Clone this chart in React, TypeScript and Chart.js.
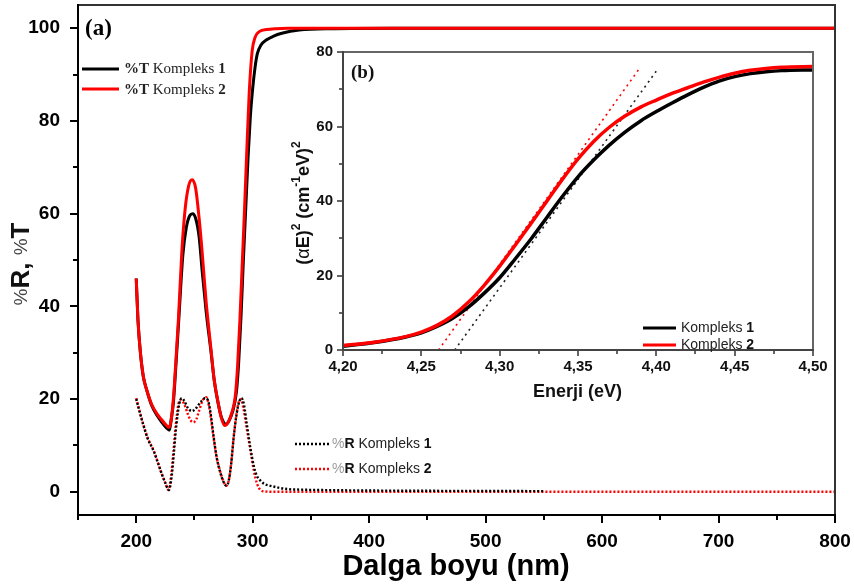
import React, { useEffect, useRef } from 'react';
import { Chart, registerables } from 'chart.js';

Chart.register(...registerables);

// ---------- (a) main chart data ----------
const WL_T1 = [200, 201.5, 203.4, 206, 209.2, 213, 217.8, 222, 226, 228.5, 230, 232, 234, 236.5, 240, 243, 246, 248.5, 251, 254, 256.5, 260, 264.3, 267, 270, 273, 277, 280, 283, 286, 288, 290, 292, 294, 296, 298, 300, 302, 304, 307, 312, 318, 325, 340, 370, 420, 500, 650, 800];
const T_K1 = [46, 37, 30.5, 25, 21.8, 18.8, 16.5, 15, 13.8, 13.3, 15.5, 19.5, 27, 37, 51, 57, 59.6, 60, 59, 55, 48, 39, 30, 24, 19.5, 16.2, 14.6, 15.5, 17.5, 21.5, 28, 38, 50, 61, 72, 81, 87, 91.5, 94.5, 96.3, 97.5, 98.3, 98.9, 99.6, 99.9, 100, 100, 100, 100];

const WL_T2 = [200, 201.5, 203.4, 206, 209.2, 213, 217.8, 222, 226, 228.3, 230, 232, 234, 236.3, 239.2, 242, 245, 248, 251, 254, 256.5, 260, 264.3, 267, 270, 273, 276, 279, 282, 285, 287, 289, 291, 293, 295, 297, 299.5, 302, 306, 312, 320, 330, 400, 600, 800];
const T_K2 = [46, 37, 30.5, 25, 21.8, 19, 16.8, 15.5, 14.3, 13.9, 15.5, 20.4, 28, 37.6, 52, 61, 66, 67.3, 65.5, 59, 52, 41, 30.5, 24, 19.7, 16, 14.3, 15, 17, 20.5, 27, 37, 49, 61, 74, 86, 95, 98, 99.3, 99.7, 99.9, 100, 100, 100, 100];

const WL_R1 = [200, 203, 206, 210, 215, 219, 222, 225, 228, 230.5, 232.5, 234.5, 237, 239, 241.5, 244, 247.8, 250.5, 253, 256.5, 259, 261.5, 263.5, 266.4, 269, 272, 275, 277.5, 279.5, 281.5, 283.6, 286, 288.5, 290.5, 292.5, 295, 298, 301, 303.5, 306.7, 310, 315.3, 322, 329.6, 345, 370, 420, 480, 550];
const R_K1 = [20, 17.2, 14.5, 11.4, 8.8, 6, 3.8, 1.9, 0.4, 3.5, 8.9, 14.5, 19, 20.2, 19.5, 18.2, 17.4, 17.8, 18.6, 19.7, 20.2, 19.8, 17.5, 12, 7.5, 4.3, 2.1, 1.3, 2.5, 6, 11.5, 16.5, 19.5, 20.2, 18.8, 14.5, 9.5, 5.5, 3.5, 2.4, 1.7, 1.3, 0.9, 0.6, 0.45, 0.35, 0.25, 0.2, 0.15];

const WL_R2 = [200, 203, 206, 210, 215, 219, 222, 225, 227.7, 230, 232, 234, 236.3, 238.5, 241, 244, 246.5, 249, 251.5, 254, 257, 260.1, 262.5, 264.5, 266.4, 269, 272, 275, 277.3, 279.5, 281.5, 283.6, 286, 288, 289.9, 292, 295, 298.1, 301, 303.8, 306.7, 310, 320, 400, 600, 800];
const R_K2 = [20.2, 17.3, 14.6, 11.5, 8.9, 6, 3.8, 1.9, 0.4, 3.5, 8.9, 14.5, 19, 19.8, 19, 17, 15.5, 15, 15.6, 17.5, 19.7, 20.4, 18.5, 15.3, 11.7, 7.5, 4.5, 2.2, 1.3, 2.5, 6, 11.7, 16.5, 19.3, 20, 18, 13.5, 8.9, 4.5, 1.7, 0.4, 0.1, 0, 0, 0, 0];

const X_TICKS = [200, 300, 400, 500, 600, 700, 800];
const X_MINOR = [150, 250, 350, 450, 550, 650, 750];
const Y_TICKS = [0, 20, 40, 60, 80, 100];
const Y_MINOR = [10, 30, 50, 70, 90];

// ---------- (b) inset data ----------
const E_GRID = [4.20, 4.22, 4.24, 4.25, 4.26, 4.27, 4.28, 4.29, 4.30, 4.31, 4.32, 4.33, 4.34, 4.35, 4.36, 4.37, 4.38, 4.39, 4.40, 4.41, 4.42, 4.43, 4.44, 4.45, 4.46, 4.47, 4.48, 4.50];
const AE_K1 = [1.0, 2.0, 3.5, 4.6, 6.3, 8.5, 11.5, 15.2, 19.4, 24.5, 29.8, 35.5, 41.2, 46.5, 51, 55, 58.5, 61.5, 64, 66.3, 68.5, 70.5, 72.2, 73.4, 74.2, 74.7, 75.0, 75.2];
const AE_K2 = [1.2, 2.1, 3.6, 4.8, 6.6, 9.2, 12.8, 17.3, 22.5, 28.2, 34, 39.9, 45.8, 51.3, 56, 59.8, 62.8, 65.2, 67.1, 68.9, 70.4, 71.9, 73.2, 74.3, 75.1, 75.6, 75.9, 76.1];
const FIT_E1 = [4.2713, 4.4014];
const FIT_K1 = [0, 75.7];
const FIT_E2 = [4.261, 4.3889];
const FIT_K2 = [0, 75.4];

const EX_TICKS = [4.2, 4.25, 4.3, 4.35, 4.4, 4.45, 4.5];
const EX_MINOR = [4.225, 4.275, 4.325, 4.375, 4.425, 4.475];
const EY_TICKS = [0, 20, 40, 60, 80];
const EY_MINOR = [10, 30, 50, 70];

const SANS = "'Liberation Sans', Arial, sans-serif";
const SERIF = "'Liberation Serif', 'Times New Roman', serif";

const pts = (xs: number[], ys: number[]) => xs.map((x, i) => ({ x, y: ys[i] }));

type Seg = { t: string; f: string; c?: string; dy?: number };

function drawRich(ctx: CanvasRenderingContext2D, segs: Seg[], x: number, y: number, align: 'left' | 'center' = 'left', rot = 0) {
  ctx.save();
  ctx.translate(x, y);
  if (rot) ctx.rotate(rot);
  ctx.textBaseline = 'middle';
  ctx.textAlign = 'left';
  let total = 0;
  for (const s of segs) {
    ctx.font = s.f;
    total += ctx.measureText(s.t).width;
  }
  let cx = align === 'center' ? -total / 2 : 0;
  for (const s of segs) {
    ctx.font = s.f;
    ctx.fillStyle = s.c || '#111';
    ctx.fillText(s.t, cx, s.dy || 0);
    cx += ctx.measureText(s.t).width;
  }
  ctx.restore();
}

type FrameCfg = {
  xMajor: number[]; xMinor: number[]; yMajor: number[]; yMinor: number[];
  major: number; minor: number; tickW: number; tickColor: string;
  axisColor: string; frameColor: string; frameW: number;
};

function drawFrame(chart: any, cfg: FrameCfg) {
  const { ctx, chartArea: a } = chart;
  const xs = chart.scales.x;
  const ys = chart.scales.y;
  ctx.save();
  ctx.lineCap = 'butt';
  ctx.strokeStyle = cfg.tickColor;
  ctx.lineWidth = cfg.tickW;
  ctx.beginPath();
  cfg.xMajor.forEach((v) => { const p = Math.round(xs.getPixelForValue(v)); ctx.moveTo(p, a.bottom); ctx.lineTo(p, a.bottom + cfg.major); });
  cfg.xMinor.forEach((v) => { const p = Math.round(xs.getPixelForValue(v)); ctx.moveTo(p, a.bottom); ctx.lineTo(p, a.bottom + cfg.minor); });
  cfg.yMajor.forEach((v) => { const p = Math.round(ys.getPixelForValue(v)); ctx.moveTo(a.left, p); ctx.lineTo(a.left - cfg.major, p); });
  cfg.yMinor.forEach((v) => { const p = Math.round(ys.getPixelForValue(v)); ctx.moveTo(a.left, p); ctx.lineTo(a.left - cfg.minor, p); });
  ctx.stroke();
  ctx.lineWidth = cfg.frameW;
  ctx.strokeStyle = cfg.frameColor;
  ctx.beginPath();
  ctx.moveTo(a.left, a.top);
  ctx.lineTo(a.right, a.top);
  ctx.lineTo(a.right, a.bottom);
  ctx.stroke();
  ctx.strokeStyle = cfg.axisColor;
  ctx.beginPath();
  ctx.moveTo(a.left, a.top - 1);
  ctx.lineTo(a.left, a.bottom);
  ctx.lineTo(a.right + 1, a.bottom);
  ctx.stroke();
  ctx.restore();
}

const zeroPad = (s: any) => {
  s.paddingTop = 0;
  s.paddingBottom = 0;
  s.paddingLeft = 0;
  s.paddingRight = 0;
};

const RED = '#ff0000';
const BLACK = '#000000';

export default function App() {
  const mainRef = useRef<HTMLCanvasElement>(null);
  const insetRef = useRef<HTMLCanvasElement>(null);

  useEffect(() => {
    const mainDecor = {
      id: 'mainDecor',
      afterDraw(chart: any) {
        const ctx = chart.ctx as CanvasRenderingContext2D;
        drawFrame(chart, {
          xMajor: X_TICKS, xMinor: X_MINOR, yMajor: Y_TICKS, yMinor: Y_MINOR,
          major: 8, minor: 5, tickW: 2, tickColor: '#000',
          axisColor: '#000', frameColor: '#333', frameW: 2,
        });
        drawRich(ctx, [{ t: '(a)', f: `bold 23px ${SERIF}`, c: '#000' }], 85, 29);
        ctx.save();
        ctx.lineWidth = 3;
        ctx.strokeStyle = BLACK;
        ctx.beginPath(); ctx.moveTo(82, 69); ctx.lineTo(119, 69); ctx.stroke();
        ctx.strokeStyle = RED;
        ctx.beginPath(); ctx.moveTo(82, 89); ctx.lineTo(119, 89); ctx.stroke();
        ctx.restore();
        drawRich(ctx, [
          { t: '%T', f: `bold 15px ${SERIF}`, c: '#222' },
          { t: ' Kompleks ', f: `15px ${SERIF}`, c: '#222' },
          { t: '1', f: `bold 15px ${SERIF}`, c: '#222' },
        ], 124, 69);
        drawRich(ctx, [
          { t: '%T', f: `bold 15px ${SERIF}`, c: '#222' },
          { t: ' Kompleks ', f: `15px ${SERIF}`, c: '#222' },
          { t: '2', f: `bold 15px ${SERIF}`, c: '#222' },
        ], 124, 90);
        ctx.save();
        ctx.lineWidth = 2.5;
        ctx.setLineDash([2, 2]);
        ctx.strokeStyle = BLACK;
        ctx.beginPath(); ctx.moveTo(295, 444); ctx.lineTo(330, 444); ctx.stroke();
        ctx.strokeStyle = RED;
        ctx.beginPath(); ctx.moveTo(295, 469); ctx.lineTo(330, 469); ctx.stroke();
        ctx.restore();
        drawRich(ctx, [
          { t: '%', f: `14px ${SANS}`, c: '#999' },
          { t: 'R', f: `bold 14px ${SANS}`, c: '#111' },
          { t: ' Kompleks ', f: `14px ${SANS}`, c: '#222' },
          { t: '1', f: `bold 14px ${SANS}`, c: '#111' },
        ], 332, 444);
        drawRich(ctx, [
          { t: '%', f: `14px ${SANS}`, c: '#999' },
          { t: 'R', f: `bold 14px ${SANS}`, c: '#111' },
          { t: ' Kompleks ', f: `14px ${SANS}`, c: '#222' },
          { t: '2', f: `bold 14px ${SANS}`, c: '#111' },
        ], 332, 469);
        drawRich(ctx, [{ t: 'Dalga boyu (nm)', f: `bold 29px ${SANS}`, c: '#000' }], 456, 567, 'center');
        drawRich(ctx, [
          { t: '%', f: `19px ${SANS}`, c: '#444' },
          { t: 'R, ', f: `bold 26px ${SANS}`, c: '#111' },
          { t: '%', f: `19px ${SANS}`, c: '#444' },
          { t: 'T', f: `bold 26px ${SANS}`, c: '#111' },
        ], 22, 264, 'center', -Math.PI / 2);
      },
    };

    const main = new Chart(mainRef.current as HTMLCanvasElement, {
      type: 'line',
      data: {
        datasets: [
          { label: '%T Kompleks 2', data: pts(WL_T2, T_K2), borderColor: RED, borderWidth: 3, order: 0 },
          { label: '%T Kompleks 1', data: pts(WL_T1, T_K1), borderColor: BLACK, borderWidth: 3, order: 1 },
          { label: '%R Kompleks 1', data: pts(WL_R1, R_K1), borderColor: BLACK, borderWidth: 2.4, borderDash: [2, 2], order: 2 },
          { label: '%R Kompleks 2', data: pts(WL_R2, R_K2), borderColor: RED, borderWidth: 2.4, borderDash: [2, 2], order: 3 },
        ] as any,
      },
      options: {
        responsive: false,
        animation: false,
        events: [],
        layout: { padding: { top: 5, right: 19, left: 0, bottom: 0 } },
        elements: { point: { radius: 0 }, line: { cubicInterpolationMode: 'monotone', fill: false } },
        plugins: { legend: { display: false }, tooltip: { enabled: false } },
        scales: {
          x: {
            type: 'linear', min: 150, max: 800,
            afterBuildTicks: (s: any) => { s.ticks = X_TICKS.map((v) => ({ value: v })); },
            afterFit: (s: any) => { s.height = 71; zeroPad(s); },
            grid: { display: false, drawTicks: false },
            border: { display: false },
            ticks: { color: '#000', padding: 15, maxRotation: 0, font: { family: SANS, size: 19, weight: 'bold' } },
          },
          y: {
            type: 'linear', min: -5, max: 105,
            afterBuildTicks: (s: any) => { s.ticks = Y_TICKS.map((v) => ({ value: v })); },
            afterFit: (s: any) => { s.width = 78; zeroPad(s); },
            grid: { display: false, drawTicks: false },
            border: { display: false },
            ticks: { color: '#000', padding: 18, font: { family: SANS, size: 19, weight: 'bold' } },
          },
        },
      } as any,
      plugins: [mainDecor],
    });

    const OX = 280;
    const OY = 30;
    const insetDecor = {
      id: 'insetDecor',
      afterDraw(chart: any) {
        const ctx = chart.ctx as CanvasRenderingContext2D;
        drawFrame(chart, {
          xMajor: EX_TICKS, xMinor: EX_MINOR, yMajor: EY_TICKS, yMinor: EY_MINOR,
          major: 6, minor: 4, tickW: 1.5, tickColor: '#333',
          axisColor: '#444', frameColor: '#666', frameW: 2,
        });
        drawRich(ctx, [{ t: '(b)', f: `bold 19px ${SERIF}`, c: '#111' }], 351 - OX, 73 - OY);
        ctx.save();
        ctx.lineWidth = 3;
        ctx.strokeStyle = BLACK;
        ctx.beginPath(); ctx.moveTo(643 - OX, 328 - OY); ctx.lineTo(676 - OX, 328 - OY); ctx.stroke();
        ctx.strokeStyle = RED;
        ctx.beginPath(); ctx.moveTo(643 - OX, 345 - OY); ctx.lineTo(676 - OX, 345 - OY); ctx.stroke();
        ctx.restore();
        drawRich(ctx, [
          { t: 'Kompleks ', f: `14px ${SANS}`, c: '#222' },
          { t: '1', f: `bold 14px ${SANS}`, c: '#111' },
        ], 681 - OX, 328 - OY);
        drawRich(ctx, [
          { t: 'Kompleks ', f: `14px ${SANS}`, c: '#222' },
          { t: '2', f: `bold 14px ${SANS}`, c: '#111' },
        ], 681 - OX, 345 - OY);
        drawRich(ctx, [{ t: 'Enerji (eV)', f: `bold 18px ${SANS}`, c: '#111' }], 577.5 - OX, 392 - OY, 'center');
        drawRich(ctx, [
          { t: '(', f: `bold 18px ${SANS}`, c: '#111' },
          { t: 'α', f: `18px ${SANS}`, c: '#111' },
          { t: 'E)', f: `bold 18px ${SANS}`, c: '#111' },
          { t: '2', f: `bold 12px ${SANS}`, c: '#111', dy: -7 },
          { t: ' (cm', f: `bold 18px ${SANS}`, c: '#111' },
          { t: '-1', f: `bold 12px ${SANS}`, c: '#111', dy: -7 },
          { t: 'eV)', f: `bold 18px ${SANS}`, c: '#111' },
          { t: '2', f: `bold 12px ${SANS}`, c: '#111', dy: -7 },
        ], 304 - OX, 203 - OY, 'center', -Math.PI / 2);
      },
    };

    const inset = new Chart(insetRef.current as HTMLCanvasElement, {
      type: 'line',
      data: {
        datasets: [
          { label: 'Kompleks 2', data: pts(E_GRID, AE_K2), borderColor: RED, borderWidth: 3.5, order: 0 },
          { label: 'Kompleks 1', data: pts(E_GRID, AE_K1), borderColor: BLACK, borderWidth: 3.5, order: 1 },
          { label: 'fit 2', data: pts(FIT_E2, FIT_K2), borderColor: RED, borderWidth: 1.6, borderDash: [2, 4], order: 2 },
          { label: 'fit 1', data: pts(FIT_E1, FIT_K1), borderColor: '#222', borderWidth: 1.6, borderDash: [2, 4], order: 3 },
        ] as any,
      },
      options: {
        responsive: false,
        animation: false,
        events: [],
        layout: { padding: { top: 22, right: 17, left: 0, bottom: 0 } },
        elements: { point: { radius: 0 }, line: { cubicInterpolationMode: 'monotone', fill: false } },
        plugins: { legend: { display: false }, tooltip: { enabled: false } },
        scales: {
          x: {
            type: 'linear', min: 4.2, max: 4.5,
            afterBuildTicks: (s: any) => { s.ticks = EX_TICKS.map((v) => ({ value: v })); },
            afterFit: (s: any) => { s.height = 60; zeroPad(s); },
            grid: { display: false, drawTicks: false },
            border: { display: false },
            ticks: {
              color: '#111', padding: 8, maxRotation: 0,
              font: { family: SANS, size: 15, weight: 'bold' },
              callback: (v: any) => Number(v).toFixed(2).replace('.', ','),
            },
          },
          y: {
            type: 'linear', min: 0, max: 80,
            afterBuildTicks: (s: any) => { s.ticks = EY_TICKS.map((v) => ({ value: v })); },
            afterFit: (s: any) => { s.width = 63; zeroPad(s); },
            grid: { display: false, drawTicks: false },
            border: { display: false },
            ticks: { color: '#111', padding: 10, font: { family: SANS, size: 15, weight: 'bold' } },
          },
        },
      } as any,
      plugins: [insetDecor],
    });

    return () => {
      main.destroy();
      inset.destroy();
    };
  }, []);

  return (
    <div style={{ position: 'absolute', left: 0, top: 0, width: 854, height: 586, background: '#fff' }}>
      <canvas ref={mainRef} width={854} height={586} style={{ position: 'absolute', left: 0, top: 0, width: 854, height: 586 }} />
      <canvas ref={insetRef} width={550} height={380} style={{ position: 'absolute', left: 280, top: 30, width: 550, height: 380 }} />
    </div>
  );
}
